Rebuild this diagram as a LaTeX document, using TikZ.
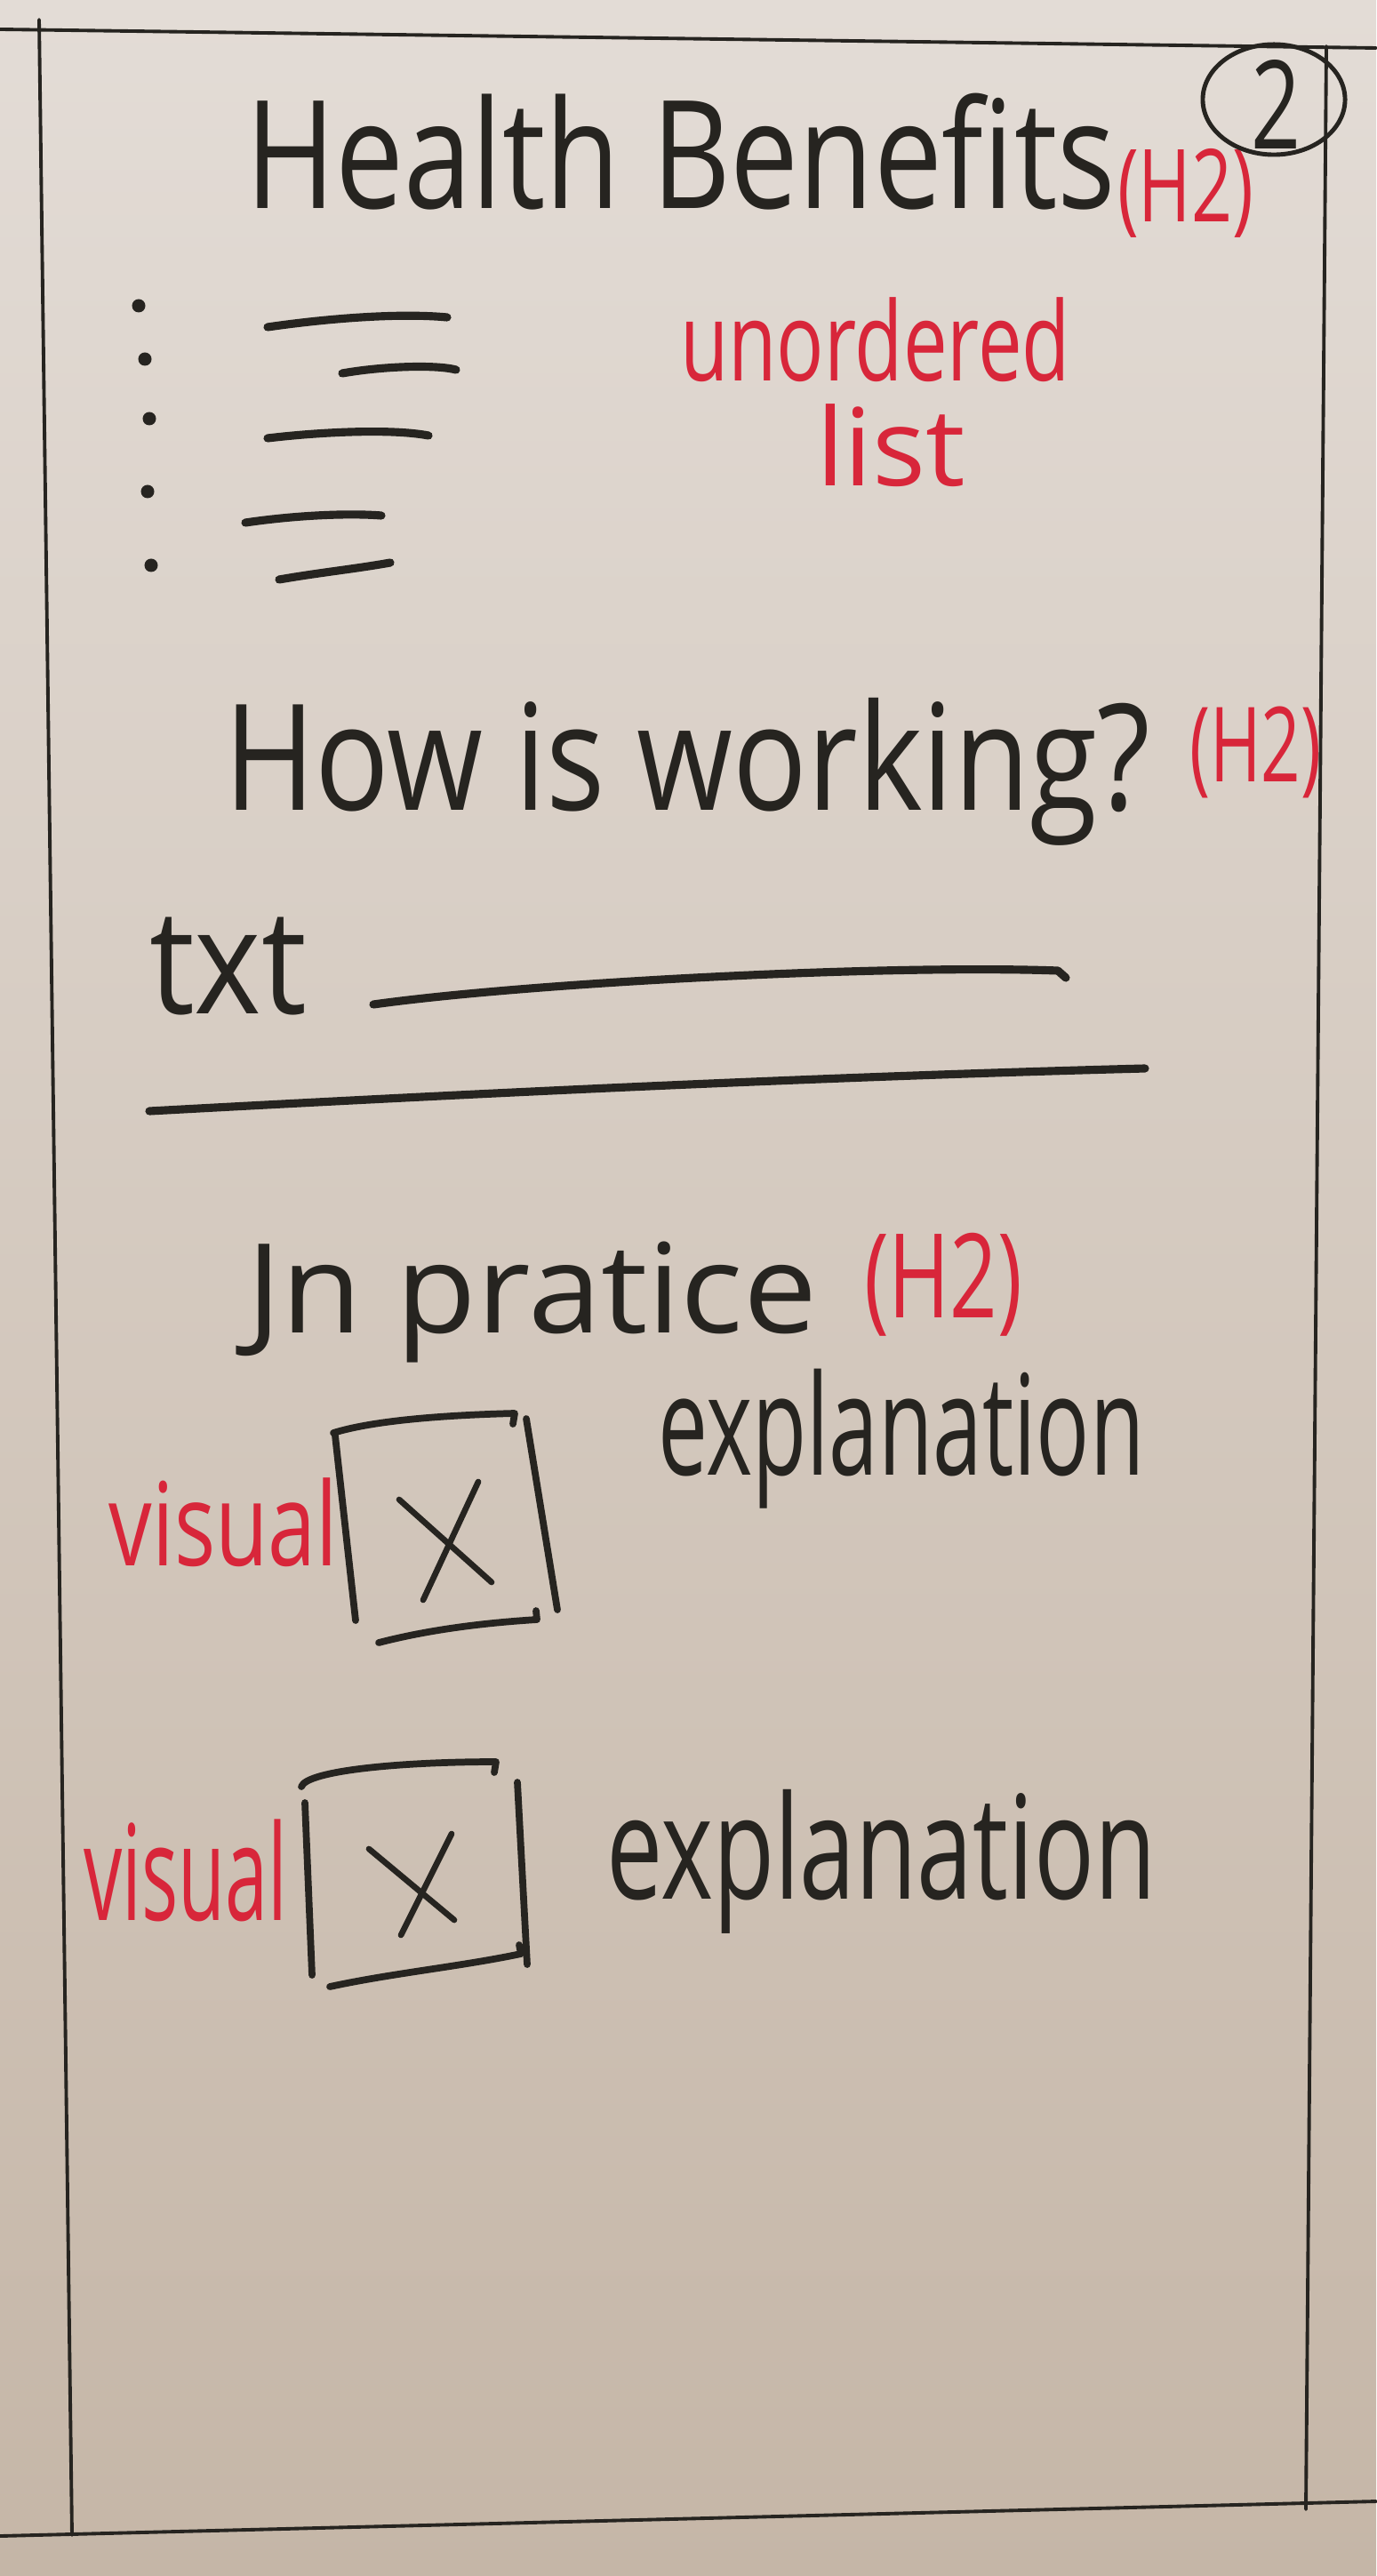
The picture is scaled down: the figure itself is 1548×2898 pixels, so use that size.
\documentclass[tikz,border=0pt]{standalone}
\usepackage{fontspec}
\setmainfont{Open Sans}
\usepackage{graphicx}
\usetikzlibrary{shapes.geometric}
\definecolor{ink}{RGB}{38,36,32}
\definecolor{redink}{RGB}{216,38,58}
\definecolor{papertop}{RGB}{227,220,214}
\definecolor{papermid}{RGB}{217,207,198}
\definecolor{paperbot}{RGB}{197,182,167}
\newcommand\fitt[3]{\resizebox*{#1}{#2}{#3}}
\begin{document}
\begin{tikzpicture}[x=0.01cm,y=-0.01cm,
  txt/.style={anchor=north west,inner sep=0pt,outer sep=0pt,text=ink},
  redtxt/.style={txt,text=redink},
  frame/.style={draw=ink,line width=1.1pt,line cap=round},
  pen/.style={draw=ink,line width=2.6pt,line cap=round,line join=round},
  boxpen/.style={draw=ink,line width=2.2pt,line cap=round,line join=round},
  xpen/.style={draw=ink,line width=1.9pt,line cap=round},
  dot/.style={circle,fill=ink,inner sep=0pt,minimum size=0.15cm}]
% paper
\shade[top color=papertop,middle color=papermid,bottom color=paperbot] (0,0) rectangle (1548,2898);
\useasboundingbox (0,0) rectangle (1548,2898);
% frame
\coordinate (ftl) at (0,33);
\coordinate (ftr) at (1548,54);
\coordinate (fbl) at (0,2853);
\coordinate (fbr) at (1548,2814);
\coordinate (lt) at (44,22);
\coordinate (lb) at (81,2852);
\coordinate (rt) at (1492,52);
\coordinate (rb) at (1469,2823);
\draw[frame] (ftl) -- (ftr);
\draw[frame] (fbl) -- (fbr);
\draw[frame] (lt) -- (lb);
\draw[frame] (rt) -- (rb);
% title
\node[txt] (t1) at (276,105) {\fitt{9.78cm}{1.31cm}{Health Benefits}};
\node[redtxt] (h2a) at (1257,167) {\fitt{1.53cm}{1.00cm}{(H2)}};
\node[draw=ink,line width=1.4pt,ellipse,inner sep=0pt,minimum width=1.6cm,minimum height=1.24cm] (circ) at (1433,112) {};
\node[txt] (two) at (1407,67) {\fitt{0.56cm}{1.00cm}{2}};
% unordered list
\node[dot] (b1) at (156,344) {};
\node[dot] (b2) at (163,404) {};
\node[dot] (b3) at (168,471) {};
\node[dot] (b4) at (166,553) {};
\node[dot] (b5) at (170,636) {};
\coordinate (d1a) at (301,368); \coordinate (d1b) at (503,357);
\coordinate (d2a) at (385,420); \coordinate (d2b) at (513,416);
\coordinate (d3a) at (301,493); \coordinate (d3b) at (482,490);
\coordinate (d4a) at (276,588); \coordinate (d4b) at (429,580);
\coordinate (d5a) at (314,652); \coordinate (d5b) at (439,633);
\draw[pen] (d1a) .. controls (370,358) and (450,352) .. (d1b);
\draw[pen] (d2a) .. controls (430,412) and (490,410) .. (d2b);
\draw[pen] (d3a) .. controls (360,486) and (440,482) .. (d3b);
\draw[pen] (d4a) .. controls (330,580) and (390,577) .. (d4b);
\draw[pen] (d5a) .. controls (360,644) and (400,640) .. (d5b);
\node[redtxt] (ul) at (765,335) {\fitt{4.39cm}{0.95cm}{unordered}};
\node[redtxt] (li) at (918,455) {\fitt{1.68cm}{0.93cm}{list}};
% how is working
\node[txt] (t2) at (252,785) {\fitt{10.41cm}{1.66cm}{How is working?}};
\node[redtxt] (h2b) at (1338,795) {\fitt{1.48cm}{1.03cm}{(H2)}};
\node[txt] (tx) at (168,1032) {\fitt{1.77cm}{1.10cm}{txt}};
\coordinate (l1a) at (420,1130);
\coordinate (l1b) at (1199,1100);
\coordinate (l2a) at (168,1250);
\coordinate (l2b) at (1288,1202);
\draw[pen] (l1a) .. controls (600,1105) and (1000,1085) .. (1190,1092) -- (l1b);
\draw[pen] (l2a) .. controls (500,1232) and (900,1212) .. (l2b);
% in practice
\node[txt] (t3) at (277,1397) {\fitt{6.42cm}{1.36cm}{Jn pratice}};
\node[redtxt] (h2c) at (972,1387) {\fitt{1.78cm}{1.16cm}{(H2)}};
% first visual
\node[txt] (ex1) at (740,1540) {\fitt{5.47cm}{1.57cm}{explanation}};
\node[redtxt] (vi1) at (123,1663) {\fitt{2.57cm}{1.00cm}{visual}};
\coordinate (a1) at (375,1612); \coordinate (a2) at (579,1590);
\coordinate (a3) at (577,1602);
\coordinate (a4) at (377,1615); \coordinate (a5) at (400,1823);
\coordinate (a6) at (592,1596); \coordinate (a7) at (627,1811);
\coordinate (a8) at (426,1848); \coordinate (a9) at (604,1822);
\coordinate (a10) at (603,1812);
\draw[boxpen] (a1) .. controls (420,1598) and (500,1592) .. (a2) -- (a3);
\draw[boxpen] (a4) -- (a5);
\draw[boxpen] (a6) -- (a7);
\draw[boxpen] (a8) .. controls (480,1834) and (540,1826) .. (a9) -- (a10);
\coordinate (x1a) at (449,1687); \coordinate (x1b) at (553,1780);
\coordinate (x1c) at (538,1667); \coordinate (x1d) at (476,1800);
\draw[xpen] (x1a) -- (x1b);
\draw[xpen] (x1c) -- (x1d);
% second visual
\node[redtxt] (vi2) at (94,2047) {\fitt{2.29cm}{1.15cm}{visual}};
\node[txt] (ex2) at (682,2013) {\fitt{6.18cm}{1.62cm}{explanation}};
\coordinate (c1) at (339,2010); \coordinate (c2) at (558,1982);
\coordinate (c3) at (556,1994);
\coordinate (c4) at (343,2028); \coordinate (c5) at (351,2222);
\coordinate (c6) at (582,2005); \coordinate (c7) at (593,2210);
\coordinate (c8) at (371,2235); \coordinate (c9) at (586,2198);
\coordinate (c10) at (584,2188);
\draw[boxpen] (c1) .. controls (345,1992) and (450,1982) .. (c2) -- (c3);
\draw[boxpen] (c4) -- (c5);
\draw[boxpen] (c6) -- (c7);
\draw[boxpen] (c8) .. controls (440,2220) and (520,2212) .. (c9) -- (c10);
\coordinate (x2a) at (415,2080); \coordinate (x2b) at (511,2160);
\coordinate (x2c) at (508,2063); \coordinate (x2d) at (451,2177);
\draw[xpen] (x2a) -- (x2b);
\draw[xpen] (x2c) -- (x2d);
\end{tikzpicture}
\end{document}
